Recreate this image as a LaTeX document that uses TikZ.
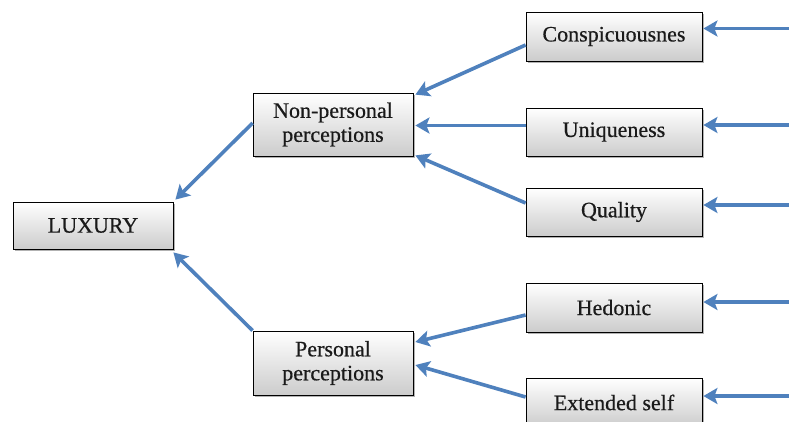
\documentclass[tikz,border=0pt]{standalone}
\usepackage{fontspec}
\setmainfont{Liberation Serif}
\newfontfamily\boxfont{Liberation Serif}[FakeBold=0.5]
\usetikzlibrary{arrows.meta,shadows,calc}
\definecolor{arrowblue}{HTML}{4F81BD}
\definecolor{txt}{HTML}{1A1A1A}
\tikzset{
  box/.style={draw=black, line width=0.8pt, top color=white, bottom color=black!20,
    drop shadow={shadow xshift=1.8pt, shadow yshift=-1.8pt, opacity=0.5, fill=black!60},
    text=txt, font=\boxfont\fontsize{22}{24}\selectfont, align=center, inner sep=0pt},
  conn/.style={draw=arrowblue, line width=3.6pt, -{Stealth[length=14pt,width=16pt,inset=3pt]}},
}
\begin{document}
\begin{tikzpicture}[x=1pt,y=-1pt]
\useasboundingbox (0,0) rectangle (789,421);
\fill[white] (0,0) rectangle (789,421);
\node[box, minimum width=160pt, minimum height=47pt] (lux) at (93,225.5) {LUXURY};
\node[box, minimum width=160pt, minimum height=63pt] (nonp) at (333,124.5) {Non-personal\\perceptions};
\node[box, minimum width=160pt, minimum height=64pt] (pers) at (333,363) {Personal\\perceptions};
\node[box, minimum width=176pt, minimum height=49pt] (consp) at (614,36.5) {Conspicuousnes};
\node[box, minimum width=176pt, minimum height=48pt] (uniq) at (614,132) {Uniqueness};
\node[box, minimum width=176pt, minimum height=48pt] (qual) at (614,212) {Quality};
\node[box, minimum width=176pt, minimum height=49pt] (hed) at (614,307.5) {Hedonic};
\node[box, minimum width=176pt, minimum height=49pt] (ext) at (614,402.5) {Extended self};
\coordinate (r1) at (789,28.5);
\coordinate (r2) at (789,125);
\coordinate (r3) at (789,205);
\coordinate (r4) at (789,302);
\coordinate (r5) at (789,396);
\draw[conn] (r1) -- ([xshift=1pt,yshift=8pt]consp.east);
\draw[conn] (r2) -- ([xshift=1pt,yshift=7pt]uniq.east);
\draw[conn] (r3) -- ([xshift=1pt,yshift=7pt]qual.east);
\draw[conn] (r4) -- ([xshift=1pt,yshift=5.5pt]hed.east);
\draw[conn] (r5) -- ([xshift=1pt,yshift=6.5pt]ext.east);
\draw[conn] ([yshift=-8.5pt]consp.west) -- ([xshift=2pt,yshift=-2pt]nonp.north east);
\draw[conn] ([yshift=6.5pt]uniq.west) -- ([xshift=2pt,yshift=-1pt]nonp.east);
\draw[conn] ([yshift=9pt]qual.west) -- ([xshift=2pt,yshift=1pt]nonp.south east);
\draw[conn] ([yshift=-7.5pt]hed.west) -- ([xshift=2pt,yshift=21pt]pers.east);
\draw[conn] ([yshift=5.5pt]ext.west) -- ([xshift=2pt,yshift=-2pt]pers.east);
\draw[conn] ([yshift=1.5pt]nonp.west) -- ([xshift=2pt,yshift=2pt]lux.north east);
\draw[conn] (pers.north west) -- ([xshift=0pt,yshift=-3pt]lux.south east);
\end{tikzpicture}
\end{document}
